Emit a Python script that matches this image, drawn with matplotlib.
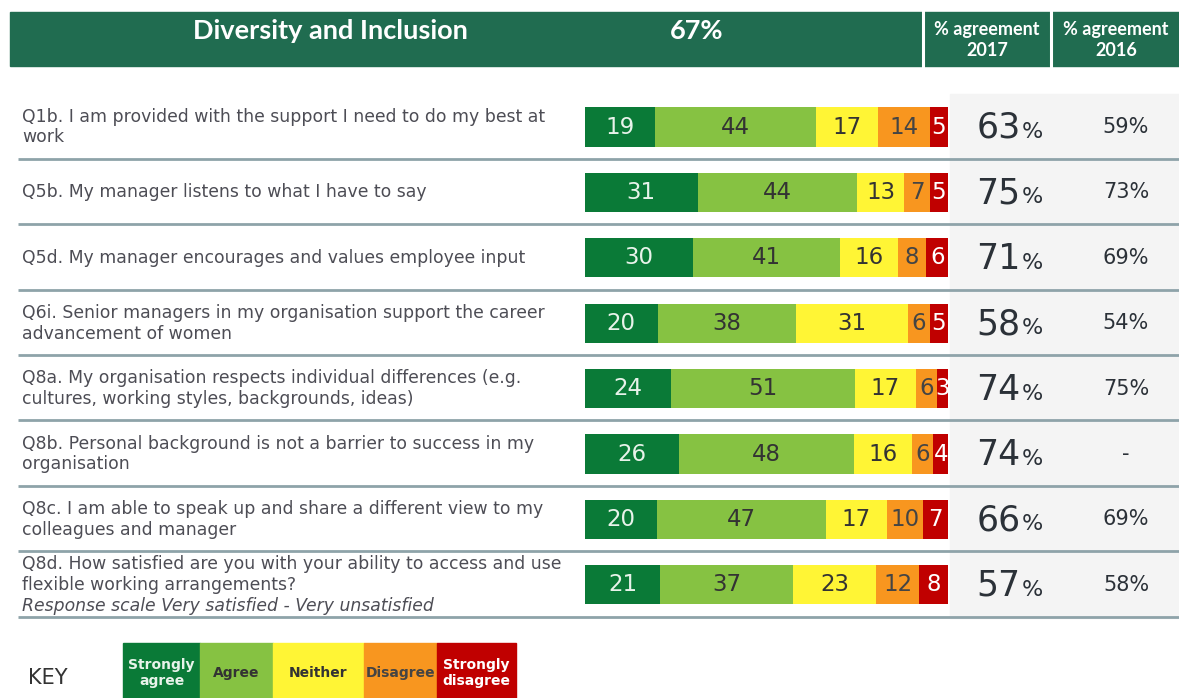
import matplotlib
matplotlib.use("Agg")
import matplotlib.pyplot as plt
from matplotlib.patches import Rectangle
import numpy as np

# ---------------- data ----------------
title = "Diversity and Inclusion"
overall = "67%"
col_2017 = "% agreement\n2017"
col_2016 = "% agreement\n2016"

questions = [
    "Q1b. I am provided with the support I need to do my best at\nwork",
    "Q5b. My manager listens to what I have to say",
    "Q5d. My manager encourages and values employee input",
    "Q6i. Senior managers in my organisation support the career\nadvancement of women",
    "Q8a. My organisation respects individual differences (e.g.\ncultures, working styles, backgrounds, ideas)",
    "Q8b. Personal background is not a barrier to success in my\norganisation",
    "Q8c. I am able to speak up and share a different view to my\ncolleagues and manager",
    "Q8d. How satisfied are you with your ability to access and use\nflexible working arrangements?",
]
note_q8d = "Response scale Very satisfied - Very unsatisfied"

strongly_agree = [19, 31, 30, 20, 24, 26, 20, 21]
agree = [44, 44, 41, 38, 51, 48, 47, 37]
neither = [17, 13, 16, 31, 17, 16, 17, 23]
disagree = [14, 7, 8, 6, 6, 6, 10, 12]
strongly_disagree = [5, 5, 6, 5, 3, 4, 7, 8]

agree_2017 = [63, 75, 71, 58, 74, 74, 66, 57]
agree_2016 = ["59%", "73%", "69%", "54%", "75%", "-", "69%", "58%"]

key_labels = ["Strongly\nagree", "Agree", "Neither", "Disagree", "Strongly\ndisagree"]

# ---------------- style ----------------
seg_colors = ["#0a7a37", "#86c242", "#fff535", "#f8961f", "#c00000"]
seg_text = ["#e8f3ea", "#333333", "#333333", "#444444", "#ffffff"]
header_green = "#206c50"
qcolor = "#4d4d55"
line_color = "#8ea3a9"

W, H = 1179, 698
fig = plt.figure(figsize=(W / 100, H / 100), dpi=100)
ax = fig.add_axes([0, 0, 1, 1])
ax.set_xlim(0, W)
ax.set_ylim(H, 0)
ax.axis("off")

# header
ax.add_patch(Rectangle((10, 12), W - 10, 54, color=header_green, zorder=1))
for xv in (923, 1051):
    ax.plot([xv, xv], [12, 66], color="white", lw=2.2, zorder=2)
hfont = dict(family="Lato", weight="bold", color="white")
ax.text(330, 31, title, ha="center", va="center", fontsize=19.5, **hfont)
ax.text(697, 31, overall, ha="center", va="center", fontsize=19.5, **hfont)
ax.text(987, 40, col_2017, ha="center", va="center", fontsize=13,
        linespacing=1.3, **hfont)
ax.text(1116, 40, col_2016, ha="center", va="center", fontsize=13,
        linespacing=1.3, **hfont)

n = len(questions)
row_y0, row_step = 127.0, 65.4
row_centers = row_y0 + row_step * np.arange(n)

# grey panel for percentages
ax.add_patch(Rectangle((950, row_centers[0] - row_step / 2), W - 950,
                       row_step * n, color="#f4f4f4", zorder=0))
# separators
for i in range(n):
    yb = row_centers[i] + row_step / 2 - 1
    ax.plot([18, W], [yb, yb], color=line_color, lw=2.0, zorder=3,
            solid_capstyle="butt")

# question text
qfs = 12.4
for i, q in enumerate(questions):
    y = row_centers[i]
    if i == n - 1:
        ax.text(22, y - 10, q, ha="left", va="center", fontsize=qfs,
                color=qcolor, linespacing=1.2)
        ax.text(22, y + 21, note_q8d, ha="left", va="center", fontsize=qfs,
                color=qcolor, style="italic")
    else:
        ax.text(22, y, q, ha="left", va="center", fontsize=qfs,
                color=qcolor, linespacing=1.2)

# percentages
fig.canvas.draw()
renderer = fig.canvas.get_renderer()
for i in range(n):
    y = row_centers[i]
    t1 = ax.text(0, y + 1, str(agree_2017[i]), ha="left", va="center",
                 fontsize=25, color="#2b3138")
    t2 = ax.text(0, y + 5, "%", ha="left", va="center", fontsize=16,
                 color="#2b3138")
    w1 = t1.get_window_extent(renderer).width
    w2 = t2.get_window_extent(renderer).width
    x0 = 1009 - (w1 + w2) / 2
    t1.set_x(x0)
    t2.set_x(x0 + w1 + 1)
    ax.text(1126, y, agree_2016[i], ha="center", va="center", fontsize=15,
            color="#2b3138")

# ---------------- bars ----------------
bx0, bx1 = 585, 948
top_pix = row_centers[0] - row_step / 2
bot_pix = row_centers[-1] + row_step / 2
bax = fig.add_axes([bx0 / W, 1 - bot_pix / H, (bx1 - bx0) / W,
                    (bot_pix - top_pix) / H])
bax.set_xlim(0, 1)
bax.set_ylim(n - 0.5, -0.5)
bax.axis("off")
bax.patch.set_alpha(0)

series = np.array([strongly_agree, agree, neither, disagree,
                   strongly_disagree], dtype=float)
totals = series.sum(axis=0)
fracs = series / totals
lefts = np.zeros(n)
ypos = np.arange(n)
for k in range(5):
    bax.barh(ypos, fracs[k], left=lefts, height=0.6, color=seg_colors[k],
             edgecolor="none")
    for i in range(n):
        bax.text(lefts[i] + fracs[k][i] / 2, ypos[i], str(int(series[k][i])),
                 ha="center", va="center", fontsize=16.5, color=seg_text[k])
    lefts += fracs[k]

# ---------------- key ----------------
ax.text(28, 678, "KEY", ha="left", va="center", fontsize=15, color="#333333")
key_x = [123, 200, 273, 364, 437, 516]
for k in range(5):
    ax.add_patch(Rectangle((key_x[k], 643), key_x[k + 1] - key_x[k], H - 643,
                           color=seg_colors[k], zorder=2))
    ax.text((key_x[k] + key_x[k + 1]) / 2, 673, key_labels[k], ha="center",
            va="center", fontsize=10, weight="bold", color=seg_text[k],
            linespacing=1.25, zorder=3)

fig.savefig("out.png", dpi=100)
